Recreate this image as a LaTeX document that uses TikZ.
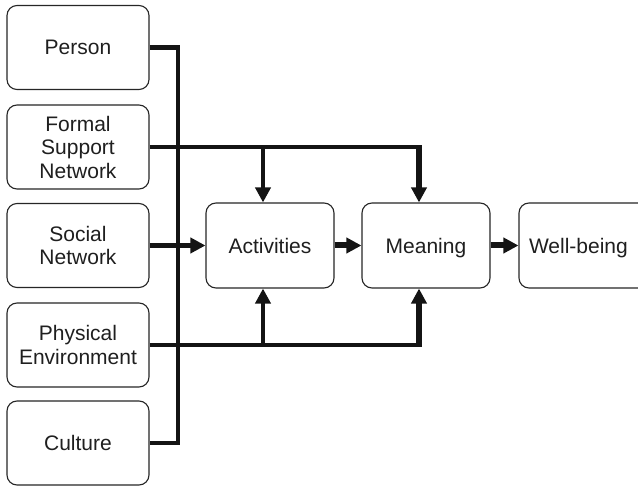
\documentclass[tikz,border=0pt]{standalone}
\usepackage{fontspec}
\setmainfont{Liberation Sans}
\usetikzlibrary{arrows.meta}
\begin{document}
\begin{tikzpicture}[x=1pt,y=-1pt,
  box/.style={draw=black!85, line width=1.1pt, rounded corners=10pt, fill=white,
    text=black!88, align=center, inner sep=0pt,
    font=\fontsize{21}{23.5}\selectfont},
  srcbox/.style={box, minimum width=142pt, minimum height=84pt},
  midbox/.style={box, minimum width=128pt, minimum height=85pt,
    text height=19pt, text depth=3pt},
  wire/.style={draw=black!92, line width=4.5pt, line cap=butt, line join=miter},
  arr/.style={wire, -{Triangle[length=15pt,width=15pt]}},
  bigarr/.style={arr, line width=6pt}
]
\useasboundingbox (0,0) rectangle (638,486);
\clip (0,0) rectangle (638,486);

% input factors
\node[srcbox] (person)   at (78,47.5) {Person};
\node[srcbox] (formal)   at (78,147)  {Formal\\Support\\Network};
\node[srcbox] (social)   at (78,245.5) {Social\\Network};
\node[srcbox] (physical) at (78,345)  {Physical\\Environment};
\node[srcbox] (culture)  at (78,443)  {Culture};

% chain
\node[midbox] (act)  at (270,245.5) {Activities};
\node[midbox] (mean) at (426,245.5) {Meaning};
\node[midbox, minimum width=132pt, text width=112pt, align=left] (well)
  at (585,245.5) {Well-being};

% x positions of the bus and the drop lines
\coordinate (busx) at (178,0);
\coordinate (ax) at (263,0);
\coordinate (mx) at (419,0);

% vertical bus from Person to Culture
\draw[wire] (person.east) -| (busx |- culture.east) -- (culture.east);

% formal support network feeds both activities and meaning
\draw[wire] (formal.east) -- ([xshift=3pt]formal.east -| mx);
\draw[arr] ([yshift=-2pt]ax |- formal.east) -- (ax |- act.north);
\draw[arr, line width=5.5pt] ([yshift=-2.25pt]mx |- formal.east) -- (mx |- mean.north);

% social network into activities
\draw[arr] (social.east) -- (act.west);

% physical environment feeds both from below
\draw[wire] (physical.east) -- ([xshift=3pt]physical.east -| mx);
\draw[arr] ([yshift=2pt]ax |- physical.east) -- (ax |- act.south);
\draw[arr, line width=5.5pt] ([yshift=2.25pt]mx |- physical.east) -- (mx |- mean.south);

% main chain
\draw[bigarr] (act.east) -- (mean.west);
\draw[bigarr] (mean.east) -- (well.west);
\end{tikzpicture}
\end{document}
